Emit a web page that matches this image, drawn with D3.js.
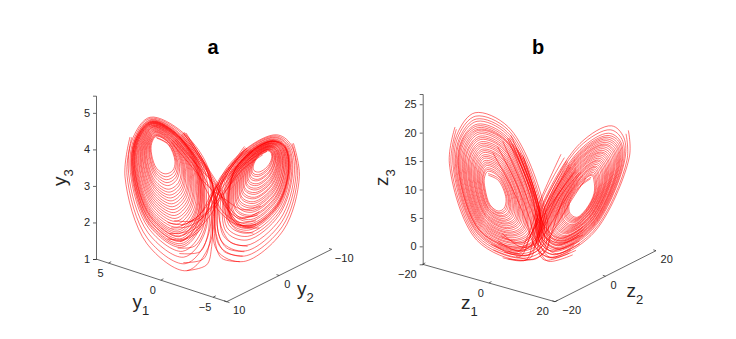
<!DOCTYPE html>
<html>
<head>
<meta charset="utf-8">
<script src="https://cdn.jsdelivr.net/npm/d3@7"></script>
<style>
  html, body { margin: 0; padding: 0; background: #fff; }
  svg { display: block; }
  text { font-family: "Liberation Sans", sans-serif; fill: #262626; }
</style>
</head>
<body>
<script>
'use strict';

// tick labels
const y1Ticks = [5, 0, -5];
const y2Ticks = [10, 0, -10];
const y3Ticks = [1, 2, 3, 4, 5];
const z1Ticks = [-20, 0, 20];
const z2Ticks = [-20, 0, 20];
const z3Ticks = [0, 5, 10, 15, 20, 25];

// traced orbits, each point is [across the box, height on the vertical axis]
const yLeftWing = [
  [182,4.31],[217,4.13],[237,3.67],[230,3.42],[207,3.33],[182,3.48],[167,3.85],[167,4.17],
  [181,4.36],[220,4.16],[243,3.65],[237,3.30],[211,3.17],[180,3.36],[162,3.81],[163,4.19],
  [180,4.40],[222,4.17],[250,3.63],[243,3.18],[215,3.01],[178,3.23],[157,3.78],[159,4.20],
  [178,4.45],[226,4.19],[257,3.61],[251,3.04],[219,2.83],[176,3.09],[152,3.74],[155,4.20],
  [177,4.49],[228,4.21],[263,3.59],[258,2.92],[223,2.67],[175,2.97],[147,3.70],[151,4.21],
  [176,4.53],[231,4.23],[270,3.57],[265,2.80],[227,2.51],[173,2.84],[142,3.66],[147,4.22],
  [175,4.57],[234,4.25],[276,3.55],[271,2.68],[231,2.35],[171,2.72],[137,3.63],[143,4.23],
  [173,4.61],[236,4.27],[282,3.53],[278,2.56],[235,2.19],[169,2.60],[133,3.59],[139,4.24],
  [172,4.63],[239,4.29],[288,3.51],[285,2.45],[239,2.03],[167,2.48],[128,3.56],[135,4.25],
  [171,4.66],[242,4.31],[295,3.49],[292,2.33],[243,1.87],[165,2.35],[123,3.52],[131,4.26],
  [170,4.69],[244,4.32],[300,3.48],[297,2.23],[246,1.74],[164,2.25],[119,3.49],[128,4.27],
  [169,4.72],[246,4.34],[305,3.46],[303,2.13],[249,1.61],[163,2.15],[115,3.46],[125,4.28],
  [168,4.75],[248,4.36],[310,3.45],[308,2.03],[252,1.48],[161,2.05],[111,3.43],[122,4.29],
  [167,4.78],[251,4.37],[317,3.43],[315,1.91],[256,1.32],[159,1.92],[106,3.39],[118,4.30],
  [165,4.82],[256,4.40],[327,3.39],[326,1.71],[263,1.05],[156,1.72],[98,3.33],[111,4.32],
  [162,4.88],[262,4.45],[342,3.35],[342,1.43],[272,.68],[152,1.43],[87,3.25],[102,4.34]
];
const yLeftWingB = [
  [181,4.33],[218,4.14],[240,3.66],[233,3.36],[209,3.25],[181,3.42],[165,3.83],[165,4.18],
  [180,4.38],[221,4.16],[246,3.64],[240,3.24],[213,3.09],[179,3.30],[160,3.80],[161,4.19],
  [179,4.42],[224,4.18],[254,3.62],[248,3.10],[217,2.91],[177,3.15],[154,3.75],[157,4.20],
  [178,4.47],[227,4.20],[260,3.60],[255,2.98],[221,2.75],[175,3.03],[149,3.72],[153,4.21],
  [176,4.51],[230,4.22],[266,3.58],[261,2.86],[225,2.59],[174,2.91],[145,3.68],[149,4.22],
  [175,4.55],[232,4.24],[273,3.56],[268,2.74],[229,2.43],[172,2.78],[140,3.65],[145,4.23],
  [174,4.59],[235,4.26],[279,3.54],[275,2.62],[233,2.27],[170,2.66],[135,3.61],[141,4.24],
  [173,4.62],[238,4.28],[285,3.52],[282,2.50],[237,2.11],[168,2.54],[130,3.57],[137,4.25],
  [172,4.65],[240,4.30],[292,3.50],[288,2.39],[241,1.95],[166,2.41],[125,3.54],[133,4.26],
  [170,4.67],[243,4.32],[298,3.48],[295,2.27],[245,1.79],[165,2.29],[121,3.50],[129,4.27],
  [170,4.70],[245,4.33],[302,3.47],[299,2.19],[247,1.69],[163,2.21],[117,3.48],[127,4.28],
  [169,4.71],[246,4.33],[304,3.47],[302,2.15],[249,1.63],[163,2.17],[116,3.47],[125,4.28],
  [169,4.73],[247,4.35],[307,3.46],[305,2.09],[251,1.55],[162,2.11],[113,3.45],[123,4.29],
  [168,4.74],[248,4.35],[309,3.45],[307,2.05],[252,1.50],[161,2.07],[112,3.44],[122,4.29],
  [168,4.76],[249,4.36],[313,3.44],[311,1.99],[254,1.42],[160,2.00],[109,3.42],[120,4.29],
  [167,4.77],[250,4.37],[315,3.43],[313,1.95],[255,1.37],[160,1.96],[108,3.41],[119,4.30],
  [166,4.80],[253,4.39],[321,3.41],[320,1.83],[259,1.21],[158,1.84],[103,3.37],[115,4.31],
  [163,4.85],[259,4.43],[335,3.37],[334,1.57],[267,.87],[154,1.57],[93,3.29],[107,4.33]
];
const yRightWing = [
  [512,3.94],[487,3.80],[472,3.55],[474,3.42],[489,3.38],[514,3.53],[527,3.76],[524,3.92],
  [514,3.96],[485,3.81],[467,3.53],[468,3.31],[487,3.26],[516,3.44],[531,3.74],[527,3.93],
  [515,3.99],[484,3.82],[462,3.51],[463,3.20],[484,3.14],[519,3.36],[535,3.71],[531,3.95],
  [517,4.01],[482,3.83],[457,3.49],[457,3.09],[482,3.01],[521,3.27],[539,3.69],[534,3.96],
  [518,4.03],[480,3.85],[452,3.47],[452,2.99],[480,2.89],[524,3.18],[544,3.66],[538,3.97],
  [520,4.06],[478,3.86],[447,3.45],[446,2.88],[477,2.77],[526,3.10],[548,3.64],[541,3.98],
  [521,4.08],[477,3.87],[442,3.43],[440,2.77],[475,2.65],[528,3.01],[552,3.61],[544,4.00],
  [523,4.10],[475,3.88],[437,3.41],[435,2.66],[473,2.52],[531,2.92],[556,3.59],[548,4.01],
  [524,4.12],[473,3.89],[432,3.39],[429,2.55],[470,2.40],[533,2.83],[560,3.56],[551,4.02],
  [526,4.15],[471,3.90],[427,3.37],[424,2.44],[468,2.28],[536,2.75],[564,3.54],[555,4.03],
  [527,4.17],[470,3.92],[422,3.36],[418,2.34],[466,2.16],[538,2.66],[568,3.51],[558,4.05],
  [529,4.19],[468,3.93],[417,3.34],[412,2.23],[463,2.03],[540,2.57],[573,3.49],[561,4.06],
  [530,4.22],[466,3.94],[412,3.32],[407,2.12],[461,1.91],[543,2.49],[577,3.46],[565,4.07],
  [531,4.23],[465,3.94],[409,3.30],[403,2.05],[459,1.84],[544,2.43],[579,3.45],[567,4.08],
  [532,4.25],[463,3.96],[404,3.28],[398,1.94],[457,1.71],[547,2.35],[583,3.42],[570,4.09],
  [535,4.29],[460,3.97],[396,3.25],[389,1.77],[453,1.52],[550,2.21],[590,3.38],[576,4.11],
  [538,4.34],[456,4.00],[384,3.21],[375,1.51],[448,1.22],[556,2.00],[600,3.32],[584,4.14],
  [542,4.40],[452,4.03],[372,3.16],[362,1.25],[442,.93],[562,1.79],[610,3.26],[592,4.17]
];
const yRightWingB = [
  [513,3.95],[486,3.81],[469,3.54],[471,3.35],[488,3.31],[515,3.48],[529,3.75],[526,3.93],
  [514,3.98],[484,3.82],[464,3.52],[465,3.25],[485,3.18],[518,3.39],[534,3.72],[529,3.94],
  [516,4.00],[482,3.83],[459,3.50],[459,3.14],[483,3.06],[520,3.30],[538,3.70],[533,3.95],
  [517,4.02],[481,3.84],[454,3.48],[454,3.03],[481,2.94],[523,3.22],[542,3.67],[536,3.97],
  [519,4.05],[479,3.85],[449,3.46],[448,2.92],[478,2.82],[525,3.13],[546,3.65],[540,3.98],
  [520,4.07],[477,3.86],[444,3.44],[443,2.81],[476,2.69],[527,3.04],[550,3.62],[543,3.99],
  [522,4.09],[475,3.88],[439,3.42],[437,2.70],[473,2.57],[530,2.96],[554,3.60],[546,4.00],
  [523,4.11],[474,3.89],[434,3.40],[431,2.60],[471,2.45],[532,2.87],[559,3.57],[550,4.02],
  [525,4.14],[472,3.90],[429,3.38],[426,2.49],[469,2.33],[535,2.78],[563,3.55],[553,4.03],
  [526,4.16],[470,3.91],[424,3.36],[420,2.38],[466,2.20],[537,2.69],[567,3.52],[557,4.04],
  [528,4.18],[468,3.92],[419,3.34],[415,2.27],[464,2.08],[539,2.61],[571,3.50],[560,4.05],
  [529,4.21],[467,3.93],[414,3.32],[409,2.16],[462,1.96],[542,2.52],[575,3.47],[563,4.07],
  [530,4.22],[466,3.94],[411,3.31],[406,2.10],[460,1.89],[543,2.47],[578,3.46],[565,4.07],
  [531,4.23],[465,3.94],[410,3.31],[405,2.07],[460,1.86],[544,2.45],[578,3.45],[566,4.08],
  [532,4.24],[464,3.95],[407,3.30],[401,2.01],[458,1.79],[545,2.40],[581,3.43],[568,4.08],
  [534,4.27],[462,3.97],[400,3.27],[393,1.86],[455,1.62],[549,2.28],[587,3.40],[573,4.10],
  [537,4.32],[458,3.99],[390,3.23],[382,1.64],[450,1.37],[553,2.10],[595,3.35],[580,4.12],
  [540,4.37],[454,4.02],[378,3.18],[369,1.38],[445,1.08],[559,1.89],[605,3.29],[588,4.16]
];
const yCrossings = [
  [[262,4.45],[342,3.35],[377,2.71],[392,2.16],[422,1.80],[472,1.71]],
  [[248,4.36],[325,3.5],[370,2.85],[395,2.35],[425,1.95],[480,1.95]],
  [[236,4.27],[305,3.55],[358,3.0],[392,2.5],[430,2.15],[485,2.2]],
  [[262,4.45],[335,3.42],[362,2.6],[375,1.9],[405,1.45],[455,1.35]],
  [[258,4.42],[332,3.44],[354,2.53],[360,1.7],[385,1.2],[440,1.08]],
  [[265,4.47],[340,3.36],[356,2.4],[357,1.5],[377,1.02],[432,.93]],
  [[255,4.4],[330,3.45],[360,2.6],[366,1.75],[392,1.3],[445,1.2]],
  [[230,4.25],[290,3.6],[330,2.9],[370,2.3],[420,1.95],[470,1.9]],
  [[240,4.3],[300,3.6],[345,2.9],[380,2.3],[430,2.0],[480,2.05]],
  [[250,4.35],[315,3.55],[360,2.9],[395,2.35],[435,2.1],[490,2.3]],
  [[225,4.2],[285,3.55],[335,3.0],[385,2.65],[440,2.35],[495,2.45]],
  [[270,4.45],[335,3.5],[375,2.9],[400,2.3],[440,1.9],[490,1.85]],
  [[452,4.03],[372,3.16],[337,2.43],[312,1.79],[252,1.47]],
  [[460,4.0],[385,3.3],[345,2.7],[318,2.0],[262,1.65]],
  [[470,3.95],[400,3.35],[350,2.85],[310,2.2],[255,1.9]],
  [[452,4.03],[377,3.07],[352,2.16],[347,1.34],[332,.84],[272,.68]],
  [[448,4.05],[380,3.1],[350,2.3],[342,1.5],[322,1.0],[262,.9]],
  [[445,4.08],[378,3.15],[345,2.4],[335,1.65],[312,1.2],[250,1.15]],
  [[455,3.98],[372,3.22],[340,2.5],[325,1.8],[295,1.35],[245,1.3]],
  [[480,3.9],[425,3.45],[385,2.9],[340,2.3],[280,1.9],[225,1.85]],
  [[470,3.95],[415,3.4],[375,2.9],[330,2.25],[270,1.75],[220,1.7]],
  [[490,3.88],[435,3.5],[395,2.95],[350,2.45],[295,2.05],[235,2.05]],
  [[465,3.98],[400,3.3],[360,2.9],[320,2.3],[265,1.95],[215,2.0]],
  [[500,3.85],[440,3.45],[385,2.8],[330,2.05],[265,1.55],[215,1.55]]
];

const zLeftWing = [
  [197,12.5],[227,11.6],[250,8.4],[244,6.7],[227,6.2],[202,7.3],[187,10.2],[185,12.0],
  [195,13.2],[229,12.2],[257,8.4],[252,6.3],[232,5.7],[200,6.9],[181,10.5],[180,12.5],
  [192,13.8],[231,12.7],[263,8.3],[259,5.8],[236,5.2],[197,6.6],[174,10.7],[174,13.1],
  [190,14.5],[232,13.3],[270,8.3],[267,5.4],[241,4.6],[195,6.2],[168,11.0],[169,13.6],
  [187,15.1],[234,13.9],[277,8.2],[275,4.9],[245,4.1],[192,5.8],[161,11.3],[164,14.2],
  [185,15.8],[236,14.4],[284,8.2],[282,4.5],[250,3.6],[190,5.4],[155,11.5],[159,14.7],
  [183,16.5],[238,15.0],[290,8.1],[290,4.1],[254,3.1],[188,5.1],[148,11.8],[153,15.2],
  [180,17.1],[240,15.5],[297,8.1],[298,3.6],[259,2.5],[185,4.7],[142,12.0],[148,15.8],
  [178,17.8],[241,16.1],[304,8.0],[305,3.2],[263,2.0],[183,4.3],[136,12.3],[143,16.3],
  [175,18.4],[243,16.7],[310,8.0],[313,2.8],[268,1.5],[180,4.0],[129,12.6],[137,16.9],
  [173,19.1],[245,17.2],[317,7.9],[321,2.3],[272,1.0],[178,3.6],[123,12.8],[132,17.4],
  [171,19.8],[247,17.8],[324,7.9],[328,1.9],[277,.5],[176,3.2],[116,13.1],[127,17.9],
  [168,20.4],[249,18.4],[331,7.8],[336,1.4],[281,-.1],[173,2.8],[110,13.4],[122,18.5],
  [167,20.9],[250,18.7],[335,7.8],[341,1.1],[284,-.4],[172,2.6],[106,13.5],[118,18.8],
  [164,21.5],[252,19.3],[342,7.7],[349,.7],[289,-.9],[169,2.2],[99,13.8],[113,19.4],
  [161,22.4],[254,20.1],[351,7.7],[359,.1],[295,-1.6],[166,1.7],[91,14.2],[106,20.1],
  [157,23.5],[257,21.0],[362,7.6],[372,-.6],[302,-2.5],[162,1.1],[80,14.6],[97,21.0]
];
const zLeftWingB = [
  [196,12.8],[228,11.9],[253,8.4],[248,6.5],[229,5.9],[201,7.1],[184,10.3],[182,12.3],
  [193,13.5],[230,12.4],[260,8.3],[256,6.0],[234,5.4],[198,6.7],[177,10.6],[177,12.8],
  [191,14.2],[232,13.0],[267,8.3],[263,5.6],[238,4.9],[196,6.4],[171,10.9],[172,13.4],
  [189,14.8],[233,13.6],[274,8.2],[271,5.2],[243,4.4],[194,6.0],[165,11.1],[167,13.9],
  [186,15.5],[235,14.1],[280,8.2],[279,4.7],[247,3.9],[191,5.6],[158,11.4],[161,14.4],
  [184,16.1],[237,14.7],[287,8.1],[286,4.3],[252,3.3],[189,5.3],[152,11.7],[156,15.0],
  [181,16.8],[239,15.3],[294,8.1],[294,3.9],[256,2.8],[186,4.9],[145,11.9],[151,15.5],
  [179,17.5],[241,15.8],[300,8.0],[302,3.4],[261,2.3],[184,4.5],[139,12.2],[145,16.1],
  [177,18.1],[242,16.4],[307,8.0],[309,3.0],[265,1.8],[182,4.1],[132,12.4],[140,16.6],
  [174,18.8],[244,17.0],[314,7.9],[317,2.5],[270,1.2],[179,3.8],[126,12.7],[135,17.1],
  [172,19.4],[246,17.5],[321,7.9],[325,2.1],[274,.7],[177,3.4],[120,13.0],[130,17.7],
  [169,20.1],[248,18.1],[327,7.8],[332,1.7],[279,.2],[174,3.0],[113,13.2],[124,18.2],
  [167,20.6],[249,18.6],[333,7.8],[339,1.3],[283,-.2],[172,2.7],[108,13.5],[120,18.7],
  [165,21.2],[251,19.0],[338,7.8],[345,.9],[286,-.7],[170,2.4],[102,13.7],[115,19.1],
  [163,22.0],[253,19.7],[346,7.7],[354,.4],[292,-1.3],[168,2.0],[95,14.0],[109,19.7],
  [159,22.9],[256,20.5],[356,7.6],[366,-.2],[298,-2.1],[164,1.4],[85,14.4],[101,20.6]
];
const zRightWing = [
  [504,11.9],[472,10.5],[440,7.5],[442,5.8],[462,5.1],[492,6.7],[514,9.3],[514,11.5],
  [508,12.5],[472,11.0],[435,7.4],[435,5.5],[457,4.7],[493,6.4],[520,9.7],[520,12.0],
  [512,13.0],[472,11.4],[429,7.4],[429,5.2],[452,4.3],[494,6.2],[527,10.1],[526,12.6],
  [515,13.6],[472,11.9],[424,7.3],[422,4.8],[448,3.8],[496,5.9],[533,10.5],[533,13.1],
  [519,14.1],[472,12.3],[419,7.2],[416,4.5],[443,3.4],[497,5.6],[539,10.8],[539,13.6],
  [523,14.7],[472,12.8],[414,7.2],[409,4.2],[438,3.0],[498,5.4],[546,11.2],[545,14.2],
  [527,15.2],[472,13.2],[408,7.1],[402,3.9],[433,2.6],[499,5.1],[552,11.6],[551,14.7],
  [530,15.8],[472,13.7],[403,7.0],[396,3.6],[428,2.2],[500,4.9],[559,12.0],[557,15.2],
  [534,16.4],[472,14.1],[398,7.0],[389,3.3],[424,1.7],[502,4.6],[565,12.4],[563,15.8],
  [538,16.9],[472,14.6],[392,6.9],[383,3.0],[419,1.3],[503,4.3],[571,12.8],[570,16.3],
  [542,17.5],[472,15.1],[387,6.8],[376,2.6],[414,.9],[504,4.1],[578,13.1],[576,16.8],
  [546,18.0],[472,15.5],[382,6.8],[369,2.3],[409,.5],[505,3.8],[584,13.5],[582,17.4],
  [549,18.6],[472,16.0],[377,6.7],[363,2.0],[404,.1],[506,3.5],[590,13.9],[588,17.9],
  [553,19.2],[472,16.4],[371,6.6],[356,1.7],[400,-.4],[508,3.3],[597,14.3],[594,18.4],
  [558,19.9],[472,17.0],[364,6.6],[347,1.2],[393,-.9],[509,2.9],[605,14.8],[603,19.2],
  [567,21.2],[472,18.1],[352,6.4],[332,.5],[382,-1.9],[512,2.3],[620,15.7],[617,20.4]
];
const zRightWingB = [
  [506,12.2],[472,10.7],[437,7.5],[439,5.6],[460,4.9],[493,6.6],[517,9.5],[517,11.8],
  [510,12.7],[472,11.2],[432,7.4],[432,5.3],[455,4.5],[494,6.3],[524,9.9],[523,12.3],
  [513,13.3],[472,11.6],[427,7.3],[426,5.0],[450,4.1],[495,6.0],[530,10.3],[529,12.8],
  [517,13.9],[472,12.1],[422,7.3],[419,4.7],[445,3.6],[496,5.8],[536,10.6],[536,13.4],
  [521,14.4],[472,12.6],[416,7.2],[412,4.4],[440,3.2],[497,5.5],[543,11.0],[542,13.9],
  [525,15.0],[472,13.0],[411,7.1],[406,4.0],[436,2.8],[499,5.2],[549,11.4],[548,14.4],
  [529,15.5],[472,13.5],[406,7.1],[399,3.7],[431,2.4],[500,5.0],[555,11.8],[554,15.0],
  [532,16.1],[472,13.9],[400,7.0],[393,3.4],[426,1.9],[501,4.7],[562,12.2],[560,15.5],
  [536,16.6],[472,14.4],[395,6.9],[386,3.1],[421,1.5],[502,4.5],[568,12.6],[567,16.0],
  [540,17.2],[472,14.8],[390,6.9],[379,2.8],[416,1.1],[503,4.2],[574,13.0],[573,16.6],
  [544,17.8],[472,15.3],[385,6.8],[373,2.5],[412,.7],[505,3.9],[581,13.3],[579,17.1],
  [547,18.3],[472,15.7],[379,6.7],[366,2.1],[407,.3],[506,3.7],[587,13.7],[585,17.6],
  [551,18.9],[472,16.2],[374,6.7],[360,1.8],[402,-.2],[507,3.4],[594,14.1],[591,18.2],
  [556,19.5],[472,16.7],[368,6.6],[352,1.5],[396,-.6],[508,3.1],[601,14.5],[598,18.8],
  [563,20.5],[472,17.6],[358,6.5],[340,.9],[388,-1.4],[511,2.6],[613,15.2],[610,19.8]
];
const zCrossings = [
  [[302,15.7],[352,6.4],[362,.5],[402,-1.3],[472,.5]],
  [[285,17],[345,7.5],[368,1.6],[405,.2],[470,2]],
  [[270,18],[335,8.5],[372,3],[415,1.4],[480,3.4]],
  [[300,16],[350,6.6],[355,.0],[385,-2],[460,-.7]],
  [[292,16.5],[348,7],[350,-.4],[375,-2.6],[450,-1.5]],
  [[280,17.4],[340,7.8],[345,-.3],[365,-2.4],[440,-1.2]],
  [[260,19],[330,8.6],[350,1],[385,-.8],[455,.6]],
  [[255,19],[310,11],[345,5],[370,1.5],[420,.6],[480,2]],
  [[240,18.5],[300,10.5],[335,5],[360,1.2],[410,-.5],[470,1]],
  [[265,19.5],[320,11.5],[355,5],[378,1.8],[425,1],[485,3]],
  [[225,17.5],[285,10.5],[320,5],[345,.5],[395,-1.5],[455,.2]],
  [[210,16.5],[270,10],[310,4.5],[335,.2],[380,-2],[445,-.6]],
  [[432,15.1],[362,7.5],[322,1.7],[292,-1.8],[212,-.6]],
  [[445,14],[372,7.6],[330,2.6],[296,-.6],[225,.4]],
  [[455,13],[385,7.4],[338,3.4],[300,.6],[235,1.8]],
  [[425,15.6],[355,7.8],[330,.8],[310,-2.4],[240,-2]],
  [[435,14.8],[368,7],[340,.6],[320,-2.2],[255,-2.2]],
  [[415,16.2],[352,8],[318,2.2],[285,-1],[205,.4]],
  [[440,14.4],[375,7],[345,1.2],[315,-1.6],[245,-1]],
  [[470,13],[410,8.5],[370,4],[335,.5],[285,-.8],[225,1]],
  [[460,13.5],[400,8.5],[360,3.5],[325,.2],[275,-1.4],[215,.2]],
  [[480,12.5],[425,8],[385,4],[350,1],[300,-.2],[240,2.2]],
  [[490,12],[440,7.5],[400,3.5],[365,.4],[315,-1.6],[255,-.8]],
  [[475,13],[420,8],[390,3],[370,-.5],[335,-2.3],[280,-1.8]]
];

const svg = d3.select('body').append('svg')
  .attr('width', 736)
  .attr('height', 339);

const fmt = d => String(d).replace('-', '\u2212');

// small axis along the floor of the box, both screen coordinates get a scale
function floorAxis(domain, from, to) {
  return {
    x: d3.scaleLinear().domain(domain).range([from[0], to[0]]),
    y: d3.scaleLinear().domain(domain).range([from[1], to[1]]),
    from: from,
    to: to
  };
}

function drawFloor(axis, ticks, tickDir, dx, dy) {
  const g = svg.append('g');
  g.append('line')
    .attr('x1', axis.from[0]).attr('y1', axis.from[1])
    .attr('x2', axis.to[0]).attr('y2', axis.to[1])
    .attr('stroke', '#262626').attr('stroke-width', 0.7);

  g.selectAll('.tick').data(ticks).enter().append('line')
    .attr('x1', d => axis.x(d)).attr('y1', d => axis.y(d))
    .attr('x2', d => axis.x(d) + tickDir[0]).attr('y2', d => axis.y(d) + tickDir[1])
    .attr('stroke', '#262626').attr('stroke-width', 0.7);

  g.selectAll('text').data(ticks).enter().append('text')
    .attr('x', d => axis.x(d) + dx(d))
    .attr('y', d => axis.y(d) + dy(d))
    .attr('text-anchor', 'middle')
    .style('font-size', '11px')
    .text(fmt);
}

// label with a subscript, like y with small 1 under it
function subLabel(letter, sub, x, y, rotate) {
  const t = svg.append('text')
    .attr('transform', 'translate(' + x + ',' + y + ')' + (rotate ? 'rotate(-90)' : ''))
    .style('font-size', '19px');
  t.append('tspan').text(letter);
  t.append('tspan').attr('dy', 7).style('font-size', '13px').text(sub);
}

function drawPanel(p) {
  const across = d3.scaleLinear().domain(p.acrossDomain).range(p.acrossRange);
  const height = d3.scaleLinear().domain(p.heightDomain).range(p.heightRange);

  const curve = d3.line()
    .x(d => across(d[0]))
    .y(d => height(d[1]))
    .curve(d3.curveCatmullRom.alpha(0.5));

  const orbits = svg.append('g')
    .attr('fill', 'none')
    .attr('stroke', '#ff0000')
    .attr('stroke-width', 0.55);

  orbits.selectAll('path')
    .data(p.strands).enter()
    .append('path')
    .attr('d', curve);

  const yAxis = d3.axisLeft(height)
    .tickValues(p.heightTicks)
    .tickSize(3)
    .tickPadding(3)
    .tickFormat(fmt);
  const g = svg.append('g')
    .attr('transform', 'translate(' + p.acrossRange[0] + ',0)')
    .call(yAxis);
  g.selectAll('path').attr('stroke', '#262626').attr('stroke-width', 0.7);
  g.selectAll('line').attr('stroke', '#262626').attr('stroke-width', 0.7);
  g.selectAll('text').style('font-size', '11px').attr('fill', '#262626');

  svg.append('text')
    .attr('x', p.titleX).attr('y', 54)
    .attr('text-anchor', 'middle')
    .style('font-size', '20px')
    .style('font-weight', 'bold')
    .style('fill', '#000')
    .text(p.title);
}

// panel a
const y1Axis = floorAxis([6.2, -6.3], [96, 259], [226.7, 301.7]);
const y2Axis = floorAxis([10, -10], [226.7, 301.7], [331.7, 249.3]);
drawPanel({
  title: 'a', titleX: 213,
  acrossDomain: [0, 707], acrossRange: [96, 331.7],
  heightDomain: [1, 5.47], heightRange: [259, 95.7],
  heightTicks: y3Ticks,
  strands: [yLeftWing, yLeftWingB, yRightWing, yRightWingB].concat(yCrossings)
});
drawFloor(y1Axis, y1Ticks, [2.6, -1.4], () => -8, () => 14);
drawFloor(y2Axis, y2Ticks, [-2.7, -0.9], d => d === 0 ? 8 : 12.5, () => 12.5);
svg.append('line').attr('x1', 226.7).attr('y1', 301.7).attr('x2', 229.5).attr('y2', 302.6)
  .attr('stroke', '#262626').attr('stroke-width', 0.7);
subLabel('y', '1', 132.5, 308, false);
subLabel('y', '2', 297, 295, false);
subLabel('y', '3', 66, 186, true);

// panel b
const z1Axis = floorAxis([-20, 20], [422.7, 264.3], [555, 301.7]);
const z2Axis = floorAxis([-20, 20], [555, 301.7], [656, 250.7]);
drawPanel({
  title: 'b', titleX: 538,
  acrossDomain: [0, 700], acrossRange: [422.7, 656],
  heightDomain: [-3.16, 26.8], heightRange: [264.3, 94],
  heightTicks: z3Ticks,
  strands: [zLeftWing, zLeftWingB, zRightWing, zRightWingB].concat(zCrossings)
});
drawFloor(z1Axis, z1Ticks, [2.6, -1.4], d => d === 0 ? -8 : (d < 0 ? -15.4 : -12.3), () => 13.5);
drawFloor(z2Axis, z2Ticks, [-2.7, -0.9], d => d === 0 ? 8 : (d < 0 ? 16.7 : 10.7), () => 12.5);
subLabel('z', '1', 461, 309, false);
subLabel('z', '2', 626.5, 297, false);
subLabel('z', '3', 387.7, 186, true);
</script>
</body>
</html>
